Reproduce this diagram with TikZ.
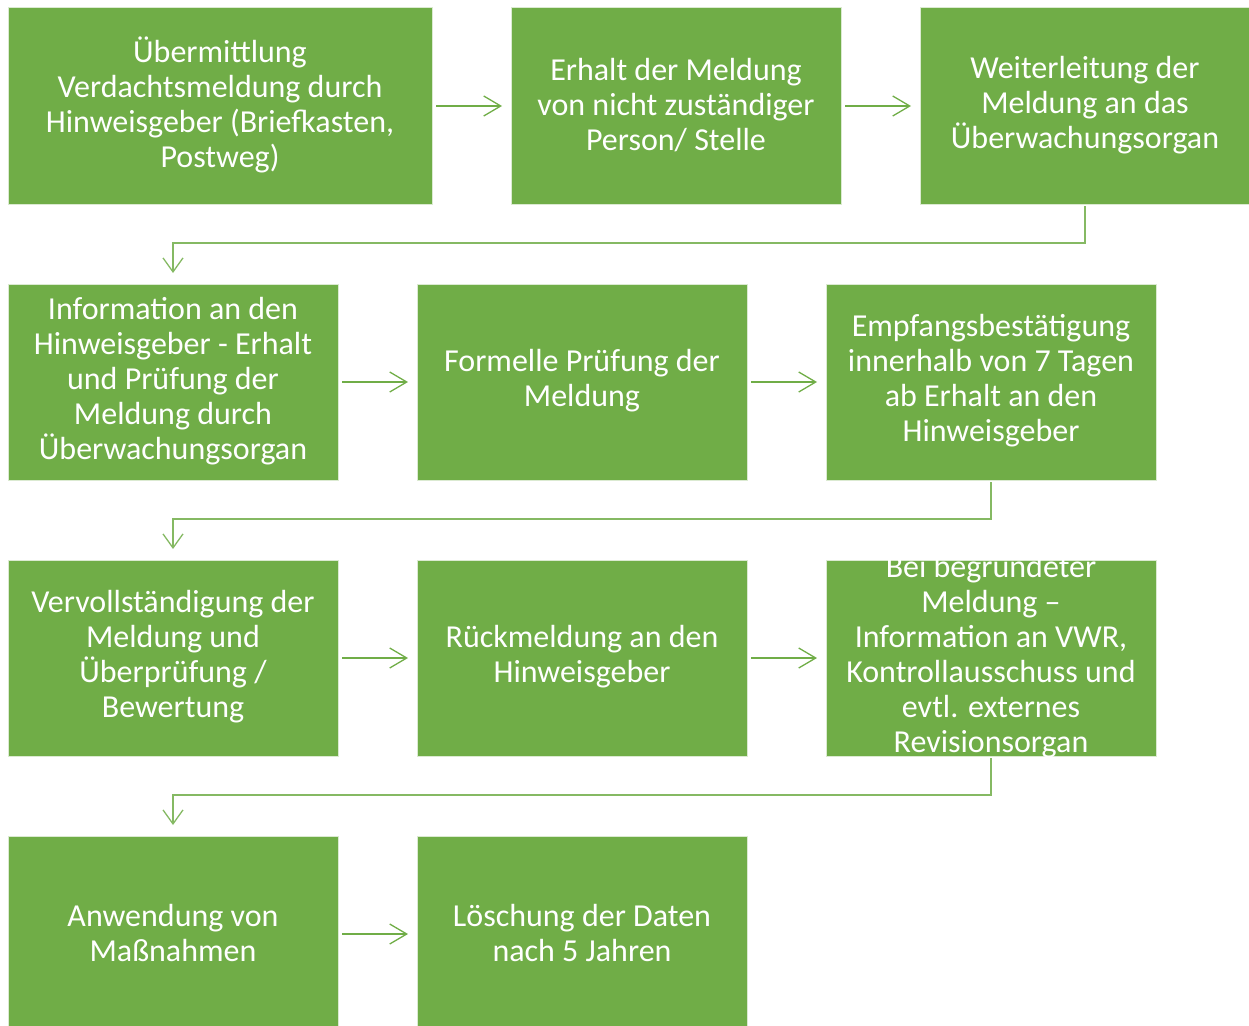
\documentclass[tikz,border=0pt]{standalone}
\usepackage{fontspec}
\setmainfont{Carlito}
\usetikzlibrary{arrows.meta}
\definecolor{boxgreen}{HTML}{70AD47}
\newcommand{\boxtext}[2][320pt]{\raisebox{-2.5pt}{\parbox[c][0pt][c]{#1}{\centering\fontsize{32}{35}\selectfont\color{white}#2}}}
\tikzset{
  box/.style={rectangle, fill=boxgreen, draw=white!75!boxgreen, line width=1pt,
    minimum height=196pt, inner sep=0pt, outer sep=0pt},
  narrow/.style={box, minimum width=330pt},
  flow/.style={draw=boxgreen, line width=1.3pt,
    -{Straight Barb[length=17pt,width=20pt,line width=1.3pt]},
    shorten <=4pt, shorten >=9pt},
  elbow/.style={draw=boxgreen!85!white, line width=1.3pt,
    -{Straight Barb[length=14pt,width=20pt,line width=1.3pt]},
    shorten <=2pt, shorten >=11pt},
}
\begin{document}
\begin{tikzpicture}[x=1pt,y=-1pt]
\useasboundingbox (0,0) rectangle (1249,1025);
\clip (0,0) rectangle (1249,1025);
% row 1
\node[box, minimum width=424pt] (a) at (220,106) {\boxtext[414pt]{Übermittlung\\Verdachtsmeldung durch\\Hinweisgeber (Briefkasten,\\Postweg)}};
\node[narrow] (b) at (676,106) {\boxtext{Erhalt der Meldung\\von nicht zuständiger\\Person/ Stelle}};
\node[narrow] (c) at (1085,106) {\boxtext{Weiterleitung der\\Meldung an das\\Überwachungsorgan}};
% row 2
\node[narrow] (d) at (173,382) {\boxtext{Information an den\\Hinweisgeber - Erhalt\\und Prüfung der\\Meldung durch\\Überwachungsorgan}};
\node[narrow] (e) at (582,382) {\boxtext{Formelle Prüfung der\\Meldung}};
\node[narrow] (f) at (991,382) {\boxtext{Empfangsbestätigung\\innerhalb von 7 Tagen\\ab Erhalt an den\\Hinweisgeber}};
% row 3
\node[narrow] (g) at (173,658) {\boxtext{Vervollständigung der\\Meldung und\\Überprüfung /\\Bewertung}};
\node[narrow] (h) at (582,658) {\boxtext{Rückmeldung an den\\Hinweisgeber}};
\node[narrow] (i) at (991,658) {\boxtext{Bei begründeter\\Meldung –\\Information an VWR,\\Kontrollausschuss und\\evtl. externes\\Revisionsorgan}};
% row 4
\node[narrow] (j) at (173,934) {\boxtext{Anwendung von\\Maßnahmen}};
\node[narrow] (k) at (582,934) {\boxtext{Löschung der Daten\\nach 5 Jahren}};
% horizontal connectors
\draw[flow] (a) -- (b);
\draw[flow] (b) -- (c);
\draw[flow] (d) -- (e);
\draw[flow] (e) -- (f);
\draw[flow] (g) -- (h);
\draw[flow] (h) -- (i);
\draw[flow] (j) -- (k);
% elbow connectors
\draw[elbow] (c.south) -- ++(0,39) -| (d.north);
\draw[elbow] (f.south) -- ++(0,39) -| (g.north);
\draw[elbow] (i.south) -- ++(0,39) -| (j.north);
\end{tikzpicture}
\end{document}
